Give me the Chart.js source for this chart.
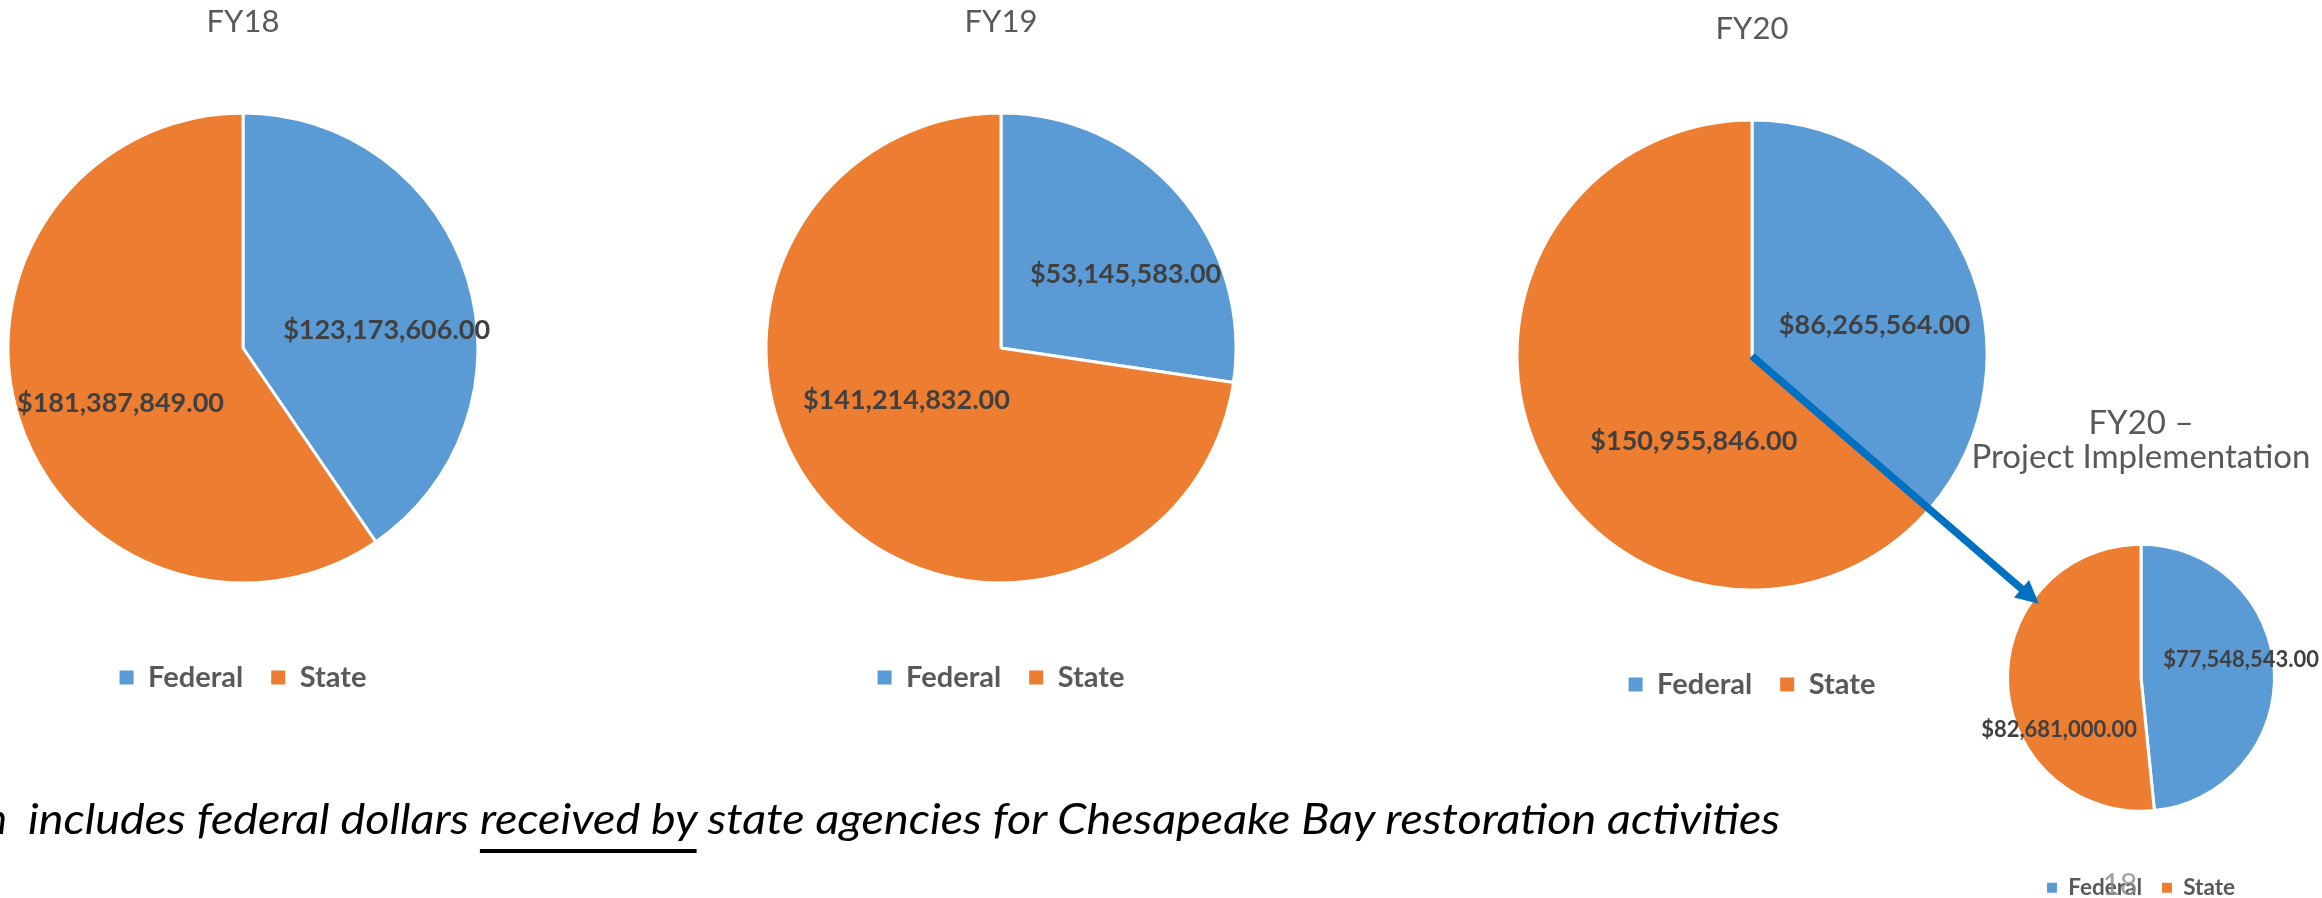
<!DOCTYPE html>
<html>
<head>
<meta charset="utf-8">
<script src="https://cdn.jsdelivr.net/npm/chart.js@4.4.1/dist/chart.umd.min.js"></script>
<style>
  html, body { margin: 0; padding: 0; background: #ffffff; }
  body { width: 2322px; height: 898px; overflow: hidden; position: relative; }
  canvas { position: absolute; }
  #overlay { position: absolute; left: 0; top: 0; }
</style>
</head>
<body>
<canvas id="cSmall" width="420" height="529" style="left:1931px;top:380px;width:420px;height:529px"></canvas>
<canvas id="c18" width="560" height="702" style="left:-37px;top:0px;width:560px;height:702px"></canvas>
<canvas id="c19" width="560" height="702" style="left:721px;top:0px;width:560px;height:702px"></canvas>
<canvas id="c20" width="560" height="702" style="left:1472px;top:7px;width:560px;height:702px"></canvas>
<svg id="overlay" width="2322" height="898" xmlns="http://www.w3.org/2000/svg"></svg>

<script>
// ---------------- DATA ----------------
const categories = ['Federal', 'State'];
const chartTitles = ['FY18', 'FY19', 'FY20', ['FY20 \u2013', 'Project Implementation']];
const fy18Values = [123173606, 181387849];
const fy19Values = [53145583, 141214832];
const fy20Values = [86265564, 150955846];
const fy20ProjectValues = [77548543, 82681000];
const footnoteLead = 'n';
const footnoteBefore = 'includes federal dollars ';
const footnoteUnderlined = 'received by';
const footnoteAfter = ' state agencies for Chesapeake Bay restoration activities';
const slideNumber = '18';

// ---------------- STYLE ----------------
const sliceColors = ['#5B9BD5', '#ED7D31'];
const FONT = 'Lato, "Open Sans", "DejaVu Sans", sans-serif';

function money(v) {
  return '$' + v.toLocaleString('en-US', { minimumFractionDigits: 2, maximumFractionDigits: 2 });
}

// draws the value labels inside the slices, anchored on each arc's geometry
const sliceLabels = {
  id: 'sliceLabels',
  afterDatasetsDraw(chart, args, opts) {
    const ctx = chart.ctx;
    const meta = chart.getDatasetMeta(0);
    const values = chart.data.datasets[0].data;
    ctx.save();
    ctx.font = 'bold ' + opts.size + 'px ' + FONT;
    ctx.fillStyle = '#404040';
    ctx.textAlign = 'center';
    ctx.textBaseline = 'middle';
    meta.data.forEach((arc, i) => {
      const p = arc.getProps(['x', 'y', 'startAngle', 'endAngle', 'outerRadius'], true);
      const a = (p.startAngle + p.endAngle) / 2 + opts.angleOffset[i] * Math.PI / 180;
      const r = p.outerRadius * opts.radius[i];
      ctx.fillText(money(values[i]), p.x + Math.cos(a) * r, p.y + Math.sin(a) * r);
    });
    ctx.restore();
  }
};

function legendLabels(chart) {
  const items = Chart.overrides.doughnut.plugins.legend.labels.generateLabels(chart);
  items.forEach(it => { it.lineWidth = 0; it.strokeStyle = 'rgba(0,0,0,0)'; });
  return items;
}

function pieConfig(values, title, L) {
  return {
    type: 'pie',
    data: {
      labels: categories,
      datasets: [{
        data: values,
        backgroundColor: sliceColors,
        borderColor: '#ffffff',
        borderWidth: 3,
        radius: L.radius,
        hoverOffset: 0
      }]
    },
    options: {
      responsive: false,
      animation: false,
      events: [],
      layout: { padding: 0 },
      plugins: {
        title: {
          display: true,
          text: title,
          color: '#595959',
          font: { family: FONT, size: L.titleSize, weight: 'normal', lineHeight: L.titleLineHeight },
          padding: { top: L.titleTop, bottom: L.titleBottom }
        },
        legend: {
          display: true,
          position: 'bottom',
          labels: {
            boxWidth: L.box, boxHeight: L.box,
            padding: L.legendPad,
            color: '#595959',
            font: { family: FONT, size: L.legendSize, weight: 'bold' },
            generateLabels: legendLabels
          }
        },
        tooltip: { enabled: false },
        sliceLabels: { size: L.labelSize, angleOffset: L.angleOffset, radius: L.labelRadius }
      }
    },
    plugins: [sliceLabels]
  };
}

const mainLayout = {
  radius: 235, titleSize: 31, titleLineHeight: 1.2, titleTop: 3.4, titleBottom: 20.4,
  box: 14, legendPad: 28, legendSize: 29, labelSize: 27
};

const ch18 = new Chart(document.getElementById('c18'), pieConfig(fy18Values, chartTitles[0],
  Object.assign({}, mainLayout, { angleOffset: [10.0, -7.1], labelRadius: [0.616, 0.572] })));
const ch19 = new Chart(document.getElementById('c19'), pieConfig(fy19Values, chartTitles[1],
  Object.assign({}, mainLayout, { angleOffset: [10.3, 11.8], labelRadius: [0.615, 0.46] })));
const ch20 = new Chart(document.getElementById('c20'), pieConfig(fy20Values, chartTitles[2],
  Object.assign({}, mainLayout, { angleOffset: [11.1, -31.5], labelRadius: [0.536, 0.443] })));
const chSmall = new Chart(document.getElementById('cSmall'), pieConfig(fy20ProjectValues, chartTitles[3], {
  radius: 133.5, titleSize: 33, titleLineHeight: 34 / 33, titleTop: 26, titleBottom: 25,
  box: 10, legendPad: 20, legendSize: 22.5, labelSize: 22,
  angleOffset: [-7.4, -29.8], labelRadius: [0.762, 0.729]
}));

// ---------------- OVERLAY: arrow, footnote, slide number ----------------
const NS = 'http://www.w3.org/2000/svg';
const svg = document.getElementById('overlay');
function el(tag, attrs, text) {
  const e = document.createElementNS(NS, tag);
  for (const k in attrs) e.setAttribute(k, attrs[k]);
  if (text !== undefined) e.textContent = text;
  svg.appendChild(e);
  return e;
}

function arcCenter(chart) {
  const arc = chart.getDatasetMeta(0).data[0];
  const p = arc.getProps(['x', 'y', 'outerRadius'], true);
  const c = chart.canvas;
  return { x: c.offsetLeft + p.x, y: c.offsetTop + p.y, r: p.outerRadius };
}

(function drawArrow() {
  const a = arcCenter(ch20);
  const b = arcCenter(chSmall);
  const ang = (305.9 - 90) * Math.PI / 180;
  const tip = { x: b.x + Math.cos(ang) * b.r * 0.944, y: b.y + Math.sin(ang) * b.r * 0.944 };
  const dx = tip.x - a.x, dy = tip.y - a.y, len = Math.hypot(dx, dy);
  const ux = dx / len, uy = dy / len, nx = -uy, ny = ux;
  const headLen = 23, headHalf = 11.5;
  const base = { x: tip.x - ux * headLen, y: tip.y - uy * headLen };
  el('line', { x1: a.x, y1: a.y + 1, x2: base.x + ux * 2, y2: base.y + uy * 2, stroke: '#0070C0', 'stroke-width': 7.5 });
  el('polygon', {
    points: [tip.x, tip.y, base.x + nx * headHalf, base.y + ny * headHalf, base.x - nx * headHalf, base.y - ny * headHalf].join(' '),
    fill: '#0070C0'
  });
})();

(function drawFootnote() {
  const base = 834;
  el('text', { x: 7, y: base, 'text-anchor': 'end', 'font-family': FONT, 'font-style': 'italic', 'font-size': 42, fill: '#000000' }, footnoteLead);
  const t = el('text', { x: 28, y: base, 'font-family': FONT, 'font-style': 'italic', 'font-size': 42, fill: '#000000',
    textLength: 1752, lengthAdjust: 'spacingAndGlyphs' });
  t.textContent = footnoteBefore + footnoteUnderlined + footnoteAfter;
  const i0 = footnoteBefore.length, i1 = i0 + footnoteUnderlined.length - 1;
  const s = t.getStartPositionOfChar(i0).x;
  const e = t.getEndPositionOfChar(i1).x;
  el('rect', { x: s, y: base + 15, width: e - s, height: 4, fill: '#000000' });
})();

el('text', { x: 2120, y: 895, 'text-anchor': 'middle', 'font-family': FONT, 'font-size': 30, fill: '#8f8f8f', 'fill-opacity': 0.85 }, slideNumber);
</script>
</body>
</html>
